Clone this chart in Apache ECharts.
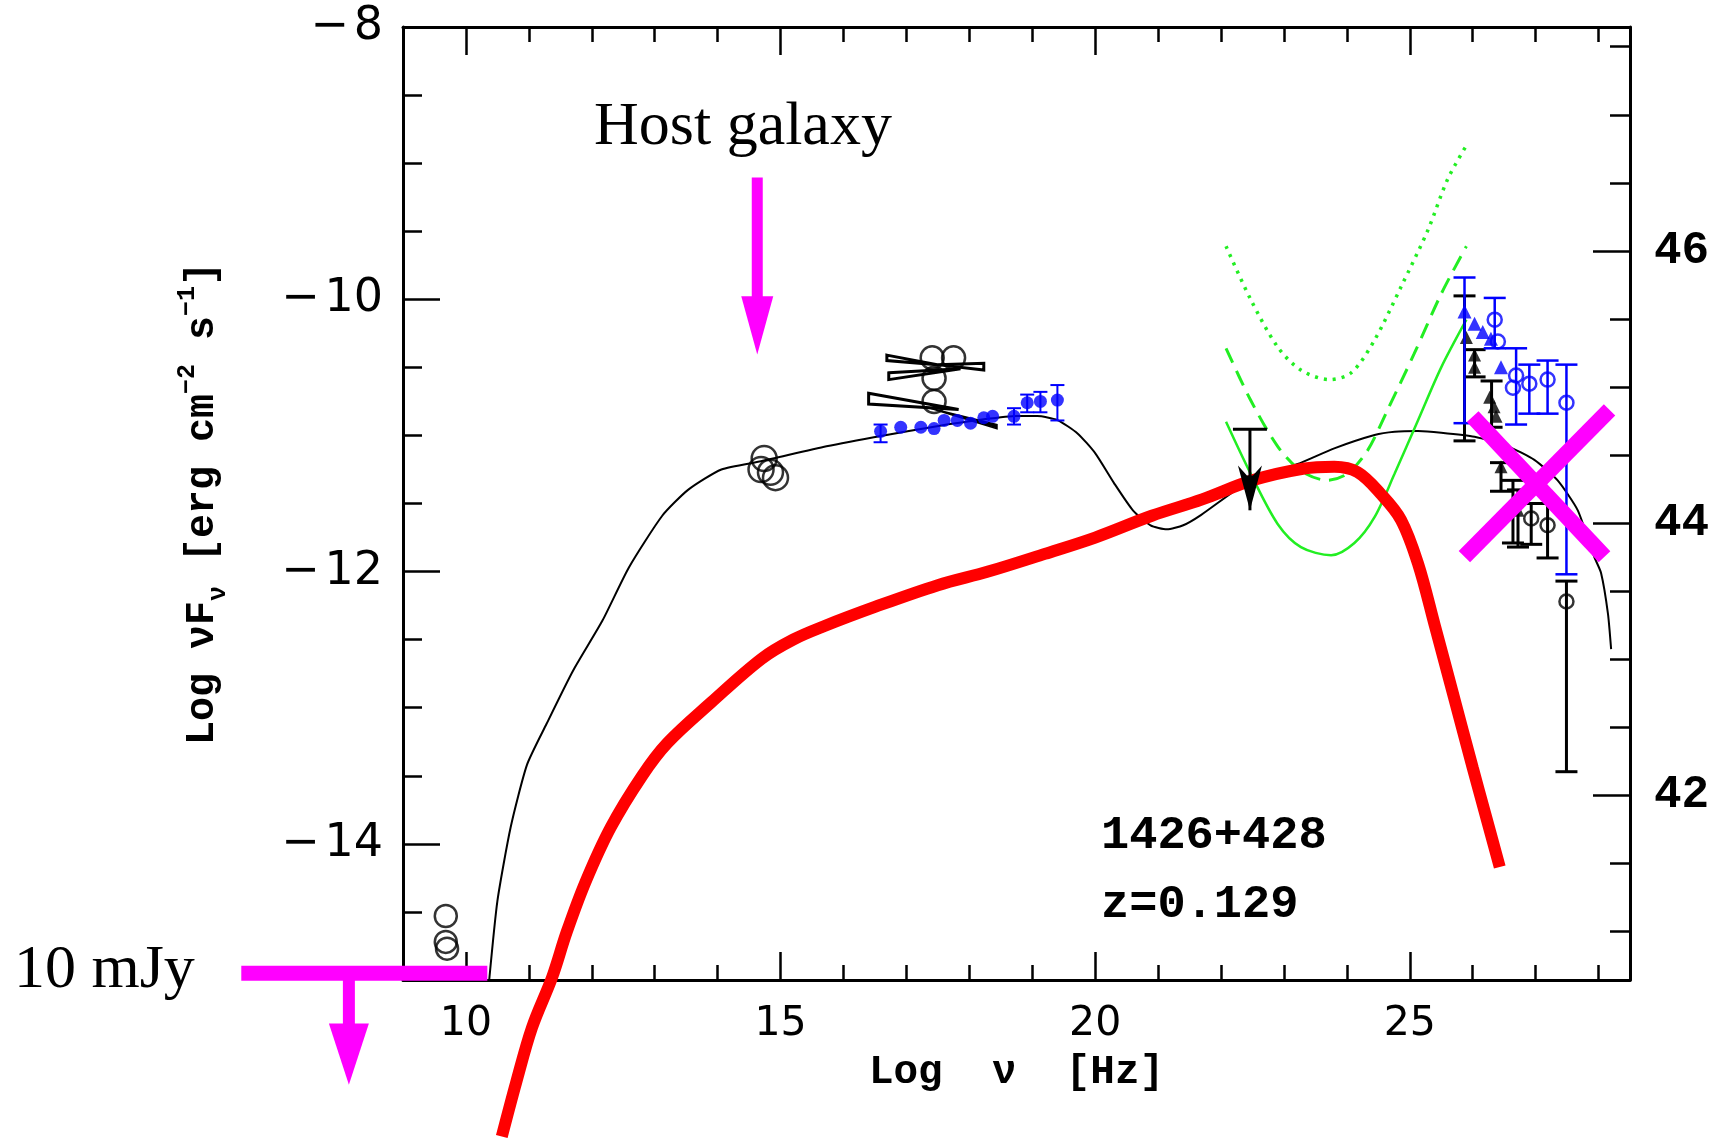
<!DOCTYPE html>
<html><head><meta charset="utf-8">
<script src="https://cdn.jsdelivr.net/npm/echarts@6/dist/echarts.min.js"></script>
<style>html,body{margin:0;padding:0;background:#fff}#c{width:1721px;height:1141px}</style>
</head><body><div id="c"></div>
<script>
// ---- tick values ----
const xMajorTicks=[10,15,20,25];
const xMinorTicks=[11,12,13,14,16,17,18,19,21,22,23,24,26,27,28];
const yMajorTicks=[-14,-12,-10,-8];
const yMinorTicks=[-14.5,-13.5,-13,-12.5,-11.5,-11,-10.5,-9.5,-9,-8.5];
const rMajorTicks=[42,44,46];
const rMinorTicks=[41,41.5,42.5,43,43.5,44.5,45,45.5,46.5,47,47.5];

// ---- model curves ----
const modelSED=[[10.37,-15.0],[10.5,-14.42],[10.71,-13.88],[10.97,-13.42],[11.28,-13.12],[11.7,-12.73],[12.17,-12.36],[12.59,-11.97],[13.12,-11.59],[13.53,-11.40],[14.06,-11.25],[14.69,-11.19],[15.73,-11.08],[16.64,-11.0],[17.44,-10.936],[18.23,-10.882],[18.76,-10.857],[19.08,-10.857],[19.4,-10.887],[19.72,-10.985],[20.0,-11.13],[20.3,-11.35],[20.6,-11.55],[20.88,-11.66],[21.14,-11.69],[21.4,-11.66],[21.68,-11.585],[22.47,-11.33],[23.22,-11.21],[23.8,-11.095],[24.44,-10.997],[24.76,-10.973],[25.13,-10.968],[25.5,-10.98],[26.03,-11.01],[26.56,-11.08],[26.98,-11.18],[27.35,-11.33],[27.67,-11.55],[27.93,-11.89],[28.04,-12.01],[28.15,-12.31],[28.2,-12.57]];
const redModel=[[10.57,-16.15],[10.8,-15.75],[11.05,-15.35],[11.37,-14.98],[11.6,-14.65],[11.9,-14.28],[12.3,-13.88],[12.8,-13.5],[13.2,-13.26],[13.9,-12.96],[14.7,-12.64],[15.2,-12.5],[15.7,-12.4],[16.5,-12.26],[17.5,-12.1],[18.3,-12.0],[19.2,-11.87],[20.0,-11.75],[20.9,-11.59],[21.7,-11.47],[22.5,-11.33],[23.3,-11.245],[23.8,-11.23],[24.17,-11.27],[24.54,-11.43],[24.86,-11.62],[25.13,-11.94],[25.4,-12.4],[25.7,-12.92],[26.0,-13.44],[26.2,-13.78],[26.43,-14.17]];
const greenDotted=[[22.08,-9.61],[22.47,-10.0],[22.9,-10.35],[23.27,-10.52],[23.72,-10.59],[24.07,-10.54],[24.44,-10.30],[24.86,-9.91],[25.29,-9.49],[25.6,-9.12],[25.9,-8.87]];
const greenDashed=[[22.08,-10.36],[22.47,-10.74],[22.9,-11.08],[23.27,-11.26],[23.69,-11.33],[24.01,-11.28],[24.33,-11.11],[24.65,-10.81],[25.07,-10.40],[25.5,-9.96],[25.9,-9.61]];
const greenSolid=[[22.08,-10.90],[22.47,-11.28],[22.9,-11.65],[23.27,-11.82],[23.75,-11.88],[24.12,-11.79],[24.44,-11.60],[24.76,-11.28],[25.13,-10.89],[25.5,-10.50],[25.9,-10.15]];

// ---- data points ----
const radioCircles=[[9.68,-14.53],[9.68,-14.72],[9.70,-14.77]];
const opticalCircles=[[14.74,-11.17],[14.69,-11.25],[14.84,-11.27],[14.92,-11.31]];
const xrayCircles=[[17.41,-10.43],[17.75,-10.43],[17.44,-10.58],[17.44,-10.75]];
const xrayBlue=[[16.59,-10.97],[16.91,-10.94],[17.23,-10.94],[17.44,-10.95],[17.60,-10.89],[17.81,-10.89],[18.02,-10.91],[18.23,-10.87],[18.37,-10.86],[18.71,-10.86],[18.92,-10.76],[19.13,-10.75],[19.40,-10.74]];
const xrayBlueErr=[[16.59,-10.92,-11.05],[18.71,-10.80,-10.92],[18.92,-10.70,-10.83],[19.13,-10.68,-10.83],[19.40,-10.63,-10.89]];
const bowtiesOpen=[
 [[16.69,-10.41],[17.49,-10.48],[18.23,-10.47],[18.23,-10.52],[17.49,-10.48],[16.69,-10.45]],
 [[16.72,-10.54],[17.86,-10.51],[16.72,-10.59]],
 [[16.40,-10.69],[17.83,-10.81],[16.40,-10.77]]
];
const bowtiesFilled=[[[17.38,-10.80],[18.44,-10.92],[18.44,-10.95]]];
const upperLimit=[[22.46,-10.955,-11.22,-11.55]];
const gammaBlueCircles=[[26.35,-10.15],[26.40,-10.31],[26.64,-10.65],[26.69,-10.56],[26.90,-10.62],[27.19,-10.59],[27.49,-10.76]];
const gammaBlueErr=[[25.87,-9.84,-10.91],[26.35,-9.99,-10.36],[26.69,-10.36,-10.92],[26.90,-10.48,-10.84],[27.19,-10.45,-10.84],[27.49,-10.48,-12.02]];
const gammaBlueTri=[[25.87,-10.09],[26.03,-10.18],[26.16,-10.24],[26.29,-10.29],[26.45,-10.50]];
const gammaBlackTri=[[25.90,-10.28],[26.03,-10.41],[26.03,-10.50],[26.27,-10.72],[26.34,-10.79],[26.37,-10.86],[26.45,-11.23],[26.64,-11.50],[26.72,-11.55]];
const gammaBlackErr=[[25.87,-9.975,-11.04],[26.03,-10.37,-10.57],[26.30,-10.60,-10.94],[26.45,-11.20,-11.41],[26.64,-11.33,-11.79],[26.72,-11.40,-11.82],[26.93,-11.50,-11.80],[27.19,-11.50,-11.90],[27.49,-12.07,-13.47]];
const gammaBlackCircles=[[26.93,-11.61],[27.19,-11.66],[27.49,-12.22]];

// ---- magenta annotations ----
const hostArrow=[[14.63,-9.106,-9.977,-10.405]];
const mJyArrow=[[8.14,-14.97,-15.32,-15.77]];
const mJyBar=[[6.43,-14.95,10.34,-14.95]];
const crossMark=[[26.0,-10.862,28.095,-11.891],[28.175,-10.813,25.868,-11.891]];

const MAG='#ff00ff', GREEN='#22ee22';
function errRender(capHalf,color,lw){
  return function(p,api){
    const x=api.value(0);
    const a=api.coord([x,api.value(1)]), b=api.coord([x,api.value(2)]);
    const st={stroke:color,lineWidth:lw};
    return {type:'group',children:[
      {type:'line',shape:{x1:a[0],y1:a[1],x2:b[0],y2:b[1]},style:st},
      {type:'line',shape:{x1:a[0]-capHalf,y1:a[1],x2:a[0]+capHalf,y2:a[1]},style:st},
      {type:'line',shape:{x1:b[0]-capHalf,y1:b[1],x2:b[0]+capHalf,y2:b[1]},style:st}
    ]};
  };
}
function arrowRender(shaftW,headHalf,color){
  return function(p,api){
    const x=api.value(0);
    const a=api.coord([x,api.value(1)]), b=api.coord([x,api.value(2)]), t=api.coord([x,api.value(3)]);
    return {type:'group',children:[
      {type:'line',shape:{x1:a[0],y1:a[1],x2:b[0],y2:b[1]+1},style:{stroke:color,lineWidth:shaftW}},
      {type:'polygon',shape:{points:[[b[0]-headHalf,b[1]],[b[0]+headHalf,b[1]],[t[0],t[1]]]},style:{fill:color}}
    ]};
  };
}
function segRender(lw,color){
  return function(p,api){
    const a=api.coord([api.value(0),api.value(1)]), b=api.coord([api.value(2),api.value(3)]);
    return {type:'line',shape:{x1:a[0],y1:a[1],x2:b[0],y2:b[1]},style:{stroke:color,lineWidth:lw,lineCap:'butt'}};
  };
}
function polyRender(polys,filled){
  return function(p,api){
    const pts=polys[p.dataIndex].map(v=>api.coord(v));
    return {type:'polygon',shape:{points:pts},style:filled?{fill:'#000',stroke:'#000',lineWidth:1.5}:{fill:'none',stroke:'#000',lineWidth:3,lineJoin:'miter'}};
  };
}
function upperRender(p,api){
  const x=api.value(0);
  const c=api.coord([x,api.value(1)]), h=api.coord([x,api.value(2)]), t=api.coord([x,api.value(3)]);
  return {type:'group',children:[
    {type:'line',shape:{x1:c[0]-17,y1:c[1],x2:c[0]+17,y2:c[1]},style:{stroke:'#000',lineWidth:3}},
    {type:'line',shape:{x1:c[0],y1:c[1],x2:t[0],y2:t[1]},style:{stroke:'#000',lineWidth:3}},
    {type:'polygon',shape:{points:[[h[0]-12,h[1]],[h[0]-3,h[1]+10],[h[0]+3,h[1]+10],[h[0]+12,h[1]],[t[0],t[1]]]},style:{fill:'#000'}}
  ]};
}
const idx=a=>a.map((v,i)=>[i]);
const circleStyle=(c,w)=>({color:'rgba(0,0,0,0)',borderColor:c,borderWidth:w});

function tickAxis(dim,pos,vals,len,extra){
  return Object.assign({type:'value',position:pos,axisLine:{show:false,onZero:false},
    axisTick:{show:true,inside:true,length:len,customValues:vals,lineStyle:{color:'#000',width:2.5}},
    axisLabel:{show:false},splitLine:{show:false},splitArea:{show:false}},extra);
}
const xr={min:9,max:28.5}, yr={min:-15,max:-8}, rr={min:40.645,max:47.645};
const frame={show:true,onZero:false,lineStyle:{color:'#000',width:3}};

const option={
  animation:false,
  backgroundColor:'#fff',
  grid:{left:403,top:27,width:1227,height:953,containLabel:false,outerBoundsMode:'none'},
  xAxis:[
    Object.assign(tickAxis('x','bottom',xMajorTicks,28,xr),{axisLine:frame,
      axisLabel:{show:true,customValues:xMajorTicks,margin:24,fontSize:41,color:'#000',fontFamily:'DejaVu Sans'},
      name:'Log  ν  [Hz]',nameLocation:'middle',nameGap:72,
      nameTextStyle:{fontFamily:'Liberation Mono',fontWeight:'bold',fontSize:41,color:'#000'}}),
    tickAxis('x','bottom',xMinorTicks,15,xr),
    Object.assign(tickAxis('x','top',xMajorTicks,28,xr),{axisLine:frame}),
    tickAxis('x','top',xMinorTicks,15,xr)
  ],
  yAxis:[
    Object.assign(tickAxis('y','left',yMajorTicks,37,yr),{axisLine:frame,
      axisLabel:{show:true,customValues:yMajorTicks,margin:20,fontSize:46,color:'#000',fontFamily:'DejaVu Sans',
        formatter:v=>String(v).replace('-','\u2212\u200a')},
      name:'{a|Log νF}{s|ν}{a| [erg cm}{p|\u22122}{a| s}{p|\u22121}{a|]}',nameLocation:'middle',nameRotate:90,nameGap:172,
      nameTextStyle:{rich:{
        a:{fontFamily:'Liberation Mono',fontWeight:'bold',fontSize:40,color:'#000',lineHeight:56,verticalAlign:'middle'},
        s:{fontFamily:'Liberation Mono',fontWeight:'bold',fontSize:25,color:'#000',lineHeight:24,verticalAlign:'bottom'},
        p:{fontFamily:'Liberation Mono',fontWeight:'bold',fontSize:25,color:'#000',lineHeight:24,verticalAlign:'top'}}}}),
    tickAxis('y','left',yMinorTicks,19,yr),
    Object.assign(tickAxis('y','right',rMajorTicks,37,rr),{axisLine:frame,
      axisLabel:{show:true,customValues:rMajorTicks,margin:24,fontSize:46,fontWeight:'bold',color:'#000',fontFamily:'Liberation Mono'}}),
    tickAxis('y','right',rMinorTicks,20,rr)
  ],
  graphic:[
    {type:'text',left:594,top:97,style:{text:'Host galaxy',font:'62px "Liberation Serif"',fill:'#000'}},
    {type:'text',left:14,top:940,style:{text:'10 mJy',font:'62px "Liberation Serif"',fill:'#000'}},
    {type:'text',left:1101,top:813,style:{text:'1426+428',font:'bold 47px "Liberation Mono"',fill:'#000'}},
    {type:'text',left:1101,top:882,style:{text:'z=0.129',font:'bold 47px "Liberation Mono"',fill:'#000'}}
  ],
  series:[
    {type:'line',name:'SED model',data:modelSED,smooth:0.2,showSymbol:false,symbol:'none',lineStyle:{color:'#000',width:2},z:2},
    {type:'line',name:'sens dotted',data:greenDotted,smooth:0.3,symbol:'none',lineStyle:{color:GREEN,width:3.5,type:[3,6]},z:3},
    {type:'line',name:'sens dashed',data:greenDashed,smooth:0.3,symbol:'none',lineStyle:{color:GREEN,width:3,type:[16,9]},z:3},
    {type:'line',name:'sens solid',data:greenSolid,smooth:0.3,symbol:'none',lineStyle:{color:GREEN,width:2.5},z:3},
    {type:'line',name:'red model',data:redModel,smooth:0.35,symbol:'none',clip:false,lineStyle:{color:'#ff0000',width:12,cap:'butt'},z:4},
    {type:'custom',name:'bowties',data:idx(bowtiesOpen),renderItem:polyRender(bowtiesOpen,false),z:5},
    {type:'custom',name:'bowties2',data:idx(bowtiesFilled),renderItem:polyRender(bowtiesFilled,true),z:5},
    {type:'scatter',name:'radio',data:radioCircles,symbol:'circle',symbolSize:22,itemStyle:circleStyle('#000',2.5),z:5},
    {type:'scatter',name:'optical',data:opticalCircles,symbol:'circle',symbolSize:25,itemStyle:circleStyle('#000',2.5),z:5},
    {type:'scatter',name:'xray circles',data:xrayCircles,symbol:'circle',symbolSize:23,itemStyle:circleStyle('#000',2.5),z:5},
    {type:'custom',name:'xray err',data:xrayBlueErr,renderItem:errRender(7,'#0000ff',2),z:5},
    {type:'scatter',name:'xray blue',data:xrayBlue,symbol:'circle',symbolSize:13,itemStyle:{color:'#0000ff'},z:6},
    {type:'custom',name:'upper limit',data:upperLimit,renderItem:upperRender,z:6},
    {type:'custom',name:'gamma black err',data:gammaBlackErr,renderItem:errRender(11,'#000',3),z:5},
    {type:'scatter',name:'gamma black tri',data:gammaBlackTri,symbol:'triangle',symbolSize:13,itemStyle:{color:'#000'},z:5},
    {type:'scatter',name:'gamma black circ',data:gammaBlackCircles,symbol:'circle',symbolSize:14,itemStyle:circleStyle('#000',2.5),z:5},
    {type:'custom',name:'gamma blue err',data:gammaBlueErr,renderItem:errRender(11,'#0000ff',2.5),z:6},
    {type:'scatter',name:'gamma blue tri',data:gammaBlueTri,symbol:'triangle',symbolSize:14,itemStyle:{color:'#0000ff'},z:6},
    {type:'scatter',name:'gamma blue circ',data:gammaBlueCircles,symbol:'circle',symbolSize:14,itemStyle:circleStyle('#0000ff',2.5),z:6},
    {type:'custom',name:'host arrow',data:hostArrow,renderItem:arrowRender(11,16,MAG),clip:false,z:8},
    {type:'custom',name:'mJy bar',data:mJyBar,renderItem:segRender(15,MAG),clip:false,z:8},
    {type:'custom',name:'mJy arrow',data:mJyArrow,renderItem:arrowRender(12,20,MAG),clip:false,z:8},
    {type:'custom',name:'cross',data:crossMark,renderItem:segRender(16,MAG),clip:false,z:9}
  ]
};
const chart=echarts.init(document.getElementById('c'),null,{renderer:'canvas'});
chart.setOption(option);
</script>
</body></html>
